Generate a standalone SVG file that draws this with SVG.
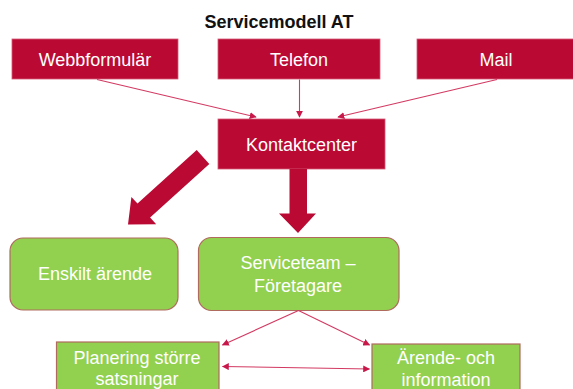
<svg xmlns="http://www.w3.org/2000/svg" width="573" height="389" viewBox="0 0 573 389">
<defs>
<style>
.red{fill:#BA0A34;stroke:#D65A77;stroke-width:0.8}
.green{fill:#92D050;stroke:#B06A5E;stroke-width:1.2}
.t{font-family:"Liberation Sans",Arial,sans-serif;font-size:18px;fill:#FFFFFF;text-anchor:middle}
.title{font-family:"Liberation Sans",Arial,sans-serif;font-size:18px;font-weight:bold;fill:#111111;text-anchor:middle}
.con{stroke:#D23A62;stroke-width:1.1;fill:none}
.big{fill:#BA0A34}
</style>
<marker id="ah" viewBox="0 0 10 10" refX="9" refY="5" markerWidth="7" markerHeight="7" markerUnits="userSpaceOnUse" orient="auto-start-reverse">
<path d="M0,0 L10,5 L0,10 z" fill="#C8184A"/>
</marker>
</defs>
<rect width="573" height="389" fill="#FFFFFF"/>
<text class="title" x="279" y="28">Servicemodell AT</text>

<g id="webbformular">
<rect class="red" x="12" y="39" width="166" height="40"/>
<text class="t" x="95" y="65.5">Webbformulär</text>
</g>
<g id="telefon">
<rect class="red" x="218" y="39" width="162" height="40"/>
<text class="t" x="299" y="65.5">Telefon</text>
</g>
<g id="mail">
<rect class="red" x="417" y="39" width="160" height="40"/>
<text class="t" x="496" y="65.5">Mail</text>
</g>
<g id="kontaktcenter">
<rect class="red" x="218" y="119" width="167" height="50"/>
<text class="t" x="301.5" y="151">Kontaktcenter</text>
</g>
<g id="enskilt">
<rect class="green" x="10" y="238" width="168" height="72" rx="13"/>
<text class="t" x="95" y="280">Enskilt ärende</text>
</g>
<g id="serviceteam">
<rect class="green" x="198.5" y="237.5" width="200.5" height="73" rx="13"/>
<text class="t" x="298" y="269">Serviceteam –</text>
<text class="t" x="298" y="291.5">Företagare</text>
</g>
<g id="planering">
<rect class="green" x="56.5" y="342" width="162.5" height="60"/>
<text class="t" x="137" y="363.5">Planering större</text>
<text class="t" x="137" y="385">satsningar</text>
</g>
<g id="arende">
<rect class="green" x="372" y="344" width="148" height="60"/>
<text class="t" x="446" y="364">Ärende- och</text>
<text class="t" x="446" y="385.5">information</text>
</g>

<g id="connectors">
<line class="con" x1="97" y1="79.5" x2="256" y2="117" marker-end="url(#ah)"/>
<line class="con" x1="299.5" y1="79.5" x2="299.5" y2="117" marker-end="url(#ah)"/>
<line class="con" x1="497" y1="79.5" x2="338" y2="117" marker-end="url(#ah)"/>
<polygon class="big" points="289.5,169 307,169 307,213.5 316,213.5 298,233 279,213.5 289.5,213.5"/>
<polygon class="big" points="196.7,150 209.3,164 150.1,217.6 156.2,224.3 128,224.5 131.4,196.9 137.5,203.6"/>
<line class="con" x1="298.5" y1="310.5" x2="222.5" y2="345" marker-end="url(#ah)"/>
<line class="con" x1="298.5" y1="310.5" x2="369.5" y2="345" marker-end="url(#ah)"/>
<line class="con" x1="222.5" y1="366.5" x2="369.5" y2="369" marker-start="url(#ah)" marker-end="url(#ah)"/>
</g>
</svg>
